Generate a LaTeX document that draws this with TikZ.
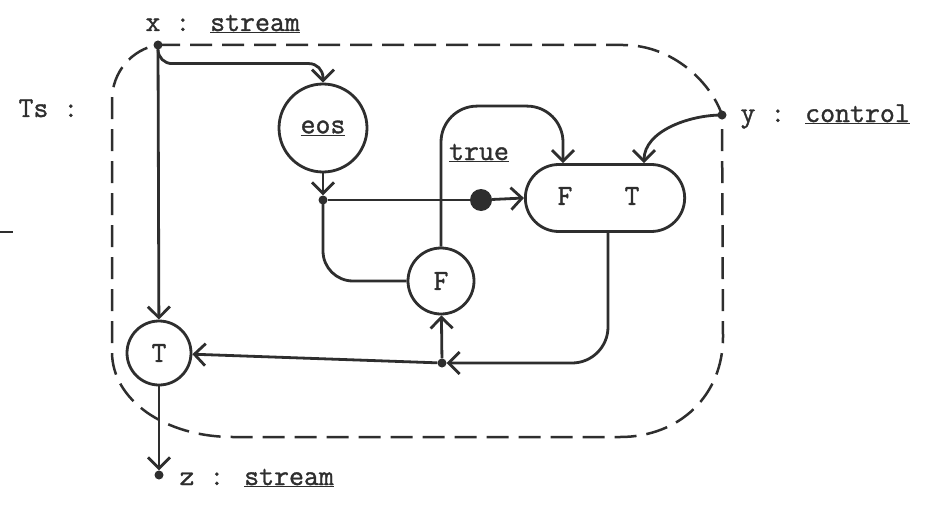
\documentclass[tikz,border=0pt]{standalone}
\usepackage{fontspec}
\newfontfamily\tw{Latin Modern Mono}[FakeBold=1.2]
\usetikzlibrary{arrows.meta,shapes.misc,calc}
\definecolor{ink}{HTML}{2E2E2E}
\begin{document}
\begin{tikzpicture}[x=1pt,y=-1pt,
  every node/.style={font=\fontsize{29}{34}\selectfont\tw, text=ink},
  dotn/.style={circle,fill=ink,inner sep=0pt,minimum size=9pt},
  circ/.style={circle,draw=ink,line width=2.8pt,inner sep=0pt},
  wire/.style={draw=ink,line width=2.8pt},
  arr/.style={wire,-{Straight Barb[length=11pt,width=22pt]}},
  boundary/.style={draw=ink,line width=2.5pt,dash pattern=on 22pt off 10pt},
  lbl/.style={anchor=base west}]
\useasboundingbox (0,0) rectangle (933,508);
\fill[white] (0,0) rectangle (933,508);

% nodes
\node[dotn] (xdot) at (158,45) {};
\node[dotn] (ydot) at (722,115) {};
\node[dotn] (zdot) at (159,475) {};
\node[circ,minimum size=88pt] (eos) at (323,128) {\underline{eos}};
\node[circ,minimum size=66pt] (F) at (441,281) {F};
\node[circ,minimum size=64pt] (T) at (159,353) {T};
\node[rounded rectangle,draw=ink,line width=2.8pt,minimum width=166pt,minimum height=67pt] (pill) at (605,198) {};
\node (pillF) at (565,196) {F};
\node (pillT) at (632,196) {T};
\node[dotn] (d1) at (323,200) {};
\node[circle,fill=ink,minimum size=22pt,inner sep=0pt] (tdot) at (481,200) {};
\node[dotn] (d2) at (442,363) {};

% labels
\node[lbl] (xl) at (142,31) {x : \underline{stream}};
\node[lbl] (yl) at (737,122) {y : \underline{control}};
\node[lbl] (zl) at (176,485) {z : \underline{stream}};
\node[lbl] (tsl) at (15,117) {Ts :};
\node[anchor=base] (truel) at (479,160) {\underline{true}};

% boundary
\draw[boundary] (xdot.center) -- (623,45) .. controls (675,45) and (712,85) .. (ydot.center)
  -- (723,337) .. controls (723,395) and (680,437) .. (620,437)
  -- (233,437) .. controls (165,437) and (112,400) .. (112,352)
  -- (112,100) .. controls (112,72) and (132,49) .. (xdot.center);

% connectors
\draw[arr] (xdot) -- (T);
\draw[arr,rounded corners=14pt] (xdot.center) |- ($(eos.north)+(0,-19)$) -- (eos.north);
\draw[arr] (eos) -- (d1);
\draw[wire] (d1) -- (tdot);
\draw[arr] (tdot) -- (pill.west);
\draw[wire,rounded corners=30pt] (d1.center) |- (F.west);
\draw[arr,rounded corners=36pt] (F.north) |- ($(pill.north -| pillF)+(-2,-57)$) -- ($(pill.north -| pillF)+(-2,0)$);
\draw[arr] (ydot.center) to[out=180,in=90,looseness=0.9] ($(pill.north -| pillT)+(12,0)$);
\draw[arr,rounded corners=36pt] ($(pill.south)+(3,0)$) |- (d2);
\draw[arr] (d2) -- (T);
\draw[arr] (d2) -- (F);
\draw[arr] (T) -- (zdot);

% stray mark at the left edge
\draw[wire,line width=2.4pt] (0,232) -- (13,232);
\end{tikzpicture}
\end{document}
